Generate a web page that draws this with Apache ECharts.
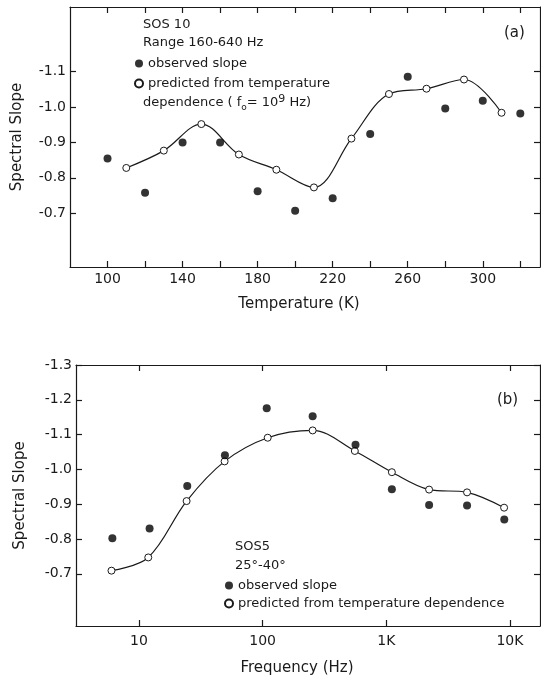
<!DOCTYPE html>
<html>
<head>
<meta charset="utf-8">
<script src="https://cdn.jsdelivr.net/npm/echarts@6/dist/echarts.min.js"></script>
<style>
  html, body { margin: 0; padding: 0; background: #fff; }
  #main { width: 541px; height: 677px; }
</style>
</head>
<body>
<div id="main"></div>
<script>
// panel (a): spectral slope vs temperature
const tempObsK = [100, 120, 140, 160, 180, 200, 220, 240, 260, 280, 300, 320]
const tempObs = [-0.855, -0.758, -0.90, -0.90, -0.762, -0.707, -0.742, -0.924, -1.086, -0.996, -1.018, -0.982]
const tempPredK = [110, 130, 150, 170, 190, 210, 230, 250, 270, 290, 310]
const tempPred = [-0.828, -0.877, -0.952, -0.866, -0.823, -0.773, -0.911, -1.037, -1.052, -1.078, -0.984]
const tempTicks = [100, 120, 140, 160, 180, 200, 220, 240, 260, 280, 300, 320]
const tempLabels = [100, 140, 180, 220, 260, 300]
const slopeTicksA = [-1.1, -1.0, -0.9, -0.8, -0.7]

// panel (b): spectral slope vs frequency
const freqObsHz = [6.1, 12.2, 24.6, 49.6, 108, 254, 564, 1110, 2220, 4500, 9000]
const freqObs = [-0.802, -0.830, -0.952, -1.041, -1.176, -1.153, -1.071, -0.943, -0.898, -0.896, -0.856]
const freqPredHz = [6.0, 11.9, 24.3, 49.3, 110, 254, 557, 1110, 2220, 4500, 8970]
const freqPred = [-0.709, -0.747, -0.909, -1.023, -1.091, -1.112, -1.053, -0.992, -0.942, -0.934, -0.890]
const freqTicks = [10, 100, 1000, 10000]
const freqLabels = ['10', '100', '1K', '10K']
const slopeTicksB = [-1.3, -1.2, -1.1, -1.0, -0.9, -0.8, -0.7]

const ink = '#1a1a1a'
const font = 'DejaVu Sans'

function pairs(xs, ys) {
  return xs.map((x, i) => [x, ys[i]])
}

function xAxisCfg(grid, pos, type, min, max, ticks, opts) {
  return Object.assign({
    gridIndex: grid,
    type: type,
    position: pos,
    min: min,
    max: max,
    axisLine: { show: true, onZero: false, lineStyle: { color: ink, width: 1.2 } },
    axisTick: { show: true, inside: true, length: 6, customValues: ticks, lineStyle: { color: ink, width: 1.2 } },
    axisLabel: { show: false },
    splitLine: { show: false }
  }, opts || {})
}

function yAxisCfg(grid, pos, min, max, ticks, opts) {
  return Object.assign({
    gridIndex: grid,
    type: 'value',
    position: pos,
    inverse: true,
    min: min,
    max: max,
    axisLine: { show: true, onZero: false, lineStyle: { color: ink, width: 1.2 } },
    axisTick: { show: true, inside: true, length: 6, customValues: ticks, lineStyle: { color: ink, width: 1.2 } },
    axisLabel: { show: false },
    splitLine: { show: false }
  }, opts || {})
}

const labelStyle = { color: ink, fontFamily: font, fontSize: 14 }
const nameStyle = { color: ink, fontFamily: font, fontSize: 15 }

const chart = echarts.init(document.getElementById('main'), null, { renderer: 'canvas' })

chart.setOption({
  backgroundColor: '#fff',
  animation: false,
  grid: [
    { left: 70, right: 1, top: 7, height: 260 },
    { left: 76, right: 1, top: 365, height: 265 }
  ],
  xAxis: [
    xAxisCfg(0, 'bottom', 'value', 80, 330.5, tempTicks, {
      name: 'Temperature (K)',
      nameLocation: 'middle',
      nameGap: 30,
      nameTextStyle: Object.assign({ padding: [0, 12, 0, 0] }, nameStyle),
      axisLabel: Object.assign({ show: true, margin: 5, customValues: tempLabels }, labelStyle)
    }),
    xAxisCfg(0, 'top', 'value', 80, 330.5, tempTicks),
    xAxisCfg(1, 'bottom', 'log', 3.1, 17500, freqTicks, {
      logBase: 10,
      name: 'Frequency (Hz)',
      nameLocation: 'middle',
      nameGap: 35,
      nameTextStyle: Object.assign({ padding: [0, 22, 0, 0] }, nameStyle),
      axisLabel: Object.assign({
        show: true,
        margin: 8,
        customValues: freqTicks,
        formatter: v => freqLabels[freqTicks.indexOf(Math.round(v))] || ''
      }, labelStyle)
    }),
    xAxisCfg(1, 'top', 'log', 3.1, 17500, freqTicks, { logBase: 10 })
  ],
  yAxis: [
    yAxisCfg(0, 'left', -1.283, -0.548, slopeTicksA, {
      name: 'Spectral Slope',
      nameLocation: 'middle',
      nameGap: 45,
      nameTextStyle: nameStyle,
      axisLabel: Object.assign({ show: true, margin: 4, customValues: slopeTicksA, formatter: v => v.toFixed(1) }, labelStyle)
    }),
    yAxisCfg(0, 'right', -1.283, -0.548, slopeTicksA),
    yAxisCfg(1, 'left', -1.3, -0.55, slopeTicksB, {
      name: 'Spectral Slope',
      nameLocation: 'middle',
      nameGap: 48,
      nameTextStyle: nameStyle,
      axisLabel: Object.assign({ show: true, margin: 4, customValues: slopeTicksB, formatter: v => v.toFixed(1) }, labelStyle)
    }),
    yAxisCfg(1, 'right', -1.3, -0.55, slopeTicksB)
  ],
  legend: [
    {
      left: 129, top: 52, orient: 'vertical', itemGap: 7,
      itemWidth: 8, itemHeight: 8, selectedMode: false,
      textStyle: { color: ink, fontFamily: font, fontSize: 13 },
      formatter: n => n === 'observed slope' ? n : 'predicted from temperature',
      data: [
        { name: 'observed slope', icon: 'circle' },
        { name: 'predicted from temperature dependence', icon: 'circle' }
      ]
    },
    {
      left: 219, top: 574, orient: 'vertical', itemGap: 5,
      itemWidth: 8, itemHeight: 8, selectedMode: false,
      textStyle: { color: ink, fontFamily: font, fontSize: 13 },
      data: [
        { name: 'observed slope', icon: 'circle' },
        { name: 'predicted from temperature dependence', icon: 'circle' }
      ]
    }
  ],
  graphic: [
    { type: 'text', x: 143, y: 25, style: { text: 'SOS 10', fill: ink, font: '13px ' + font, verticalAlign: 'middle' } },
    { type: 'text', x: 143, y: 43, style: { text: 'Range 160-640 Hz', fill: ink, font: '13px ' + font, verticalAlign: 'middle' } },
    {
      type: 'text', x: 143, y: 103,
      style: {
        text: '{n|dependence ( f}{sub|o}{n|= 10}{sup|9}{n| Hz)}',
        verticalAlign: 'middle',
        rich: {
          n: { fill: ink, fontFamily: font, fontSize: 13, lineHeight: 18 },
          sub: { fill: ink, fontFamily: font, fontSize: 9, lineHeight: 9, verticalAlign: 'bottom' },
          sup: { fill: ink, fontFamily: font, fontSize: 11, lineHeight: 11, verticalAlign: 'top' }
        }
      }
    },
    { type: 'text', x: 504, y: 33, style: { text: '(a)', fill: ink, font: '15px ' + font, verticalAlign: 'middle' } },
    { type: 'text', x: 235, y: 547, style: { text: 'SOS5', fill: ink, font: '13px ' + font, verticalAlign: 'middle' } },
    { type: 'text', x: 235, y: 566, style: { text: '25°-40°', fill: ink, font: '13px ' + font, verticalAlign: 'middle' } },
    { type: 'text', x: 497, y: 400, style: { text: '(b)', fill: ink, font: '15px ' + font, verticalAlign: 'middle' } }
  ],
  series: [
    {
      name: 'predicted from temperature dependence',
      type: 'line',
      xAxisIndex: 0, yAxisIndex: 0,
      smooth: 0.35,
      symbol: 'circle', symbolSize: 7,
      lineStyle: { color: ink, width: 1.2 },
      itemStyle: { color: '#fff', borderColor: ink, borderWidth: 1 },
      z: 3,
      data: pairs(tempPredK, tempPred)
    },
    {
      name: 'observed slope',
      type: 'scatter',
      xAxisIndex: 0, yAxisIndex: 0,
      symbol: 'circle', symbolSize: 8,
      itemStyle: { color: '#000' },
      z: 4,
      data: pairs(tempObsK, tempObs)
    },
    {
      name: 'predicted from temperature dependence',
      type: 'line',
      xAxisIndex: 2, yAxisIndex: 2,
      smooth: 0.35,
      symbol: 'circle', symbolSize: 7,
      lineStyle: { color: ink, width: 1.2 },
      itemStyle: { color: '#fff', borderColor: ink, borderWidth: 1 },
      z: 3,
      data: pairs(freqPredHz, freqPred)
    },
    {
      name: 'observed slope',
      type: 'scatter',
      xAxisIndex: 2, yAxisIndex: 2,
      symbol: 'circle', symbolSize: 8,
      itemStyle: { color: '#000' },
      z: 4,
      data: pairs(freqObsHz, freqObs)
    }
  ]
})
</script>
</body>
</html>
